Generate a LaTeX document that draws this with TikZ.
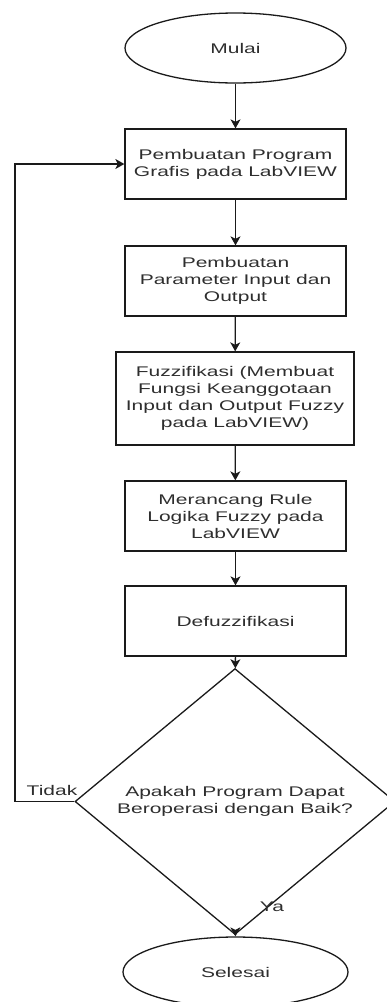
\documentclass[tikz,border=0pt]{standalone}
\usepackage{fontspec}
\setmainfont[FakeStretch=1.5]{Liberation Sans}
\usetikzlibrary{shapes.geometric,arrows.meta}
\definecolor{ink}{HTML}{1A1A1A}
\definecolor{txt}{HTML}{2E2E2E}
\begin{document}
\begin{tikzpicture}[x=1pt,y=-1pt,
  every node/.style={font=\fontsize{14}{17}\selectfont, text=txt, align=center, inner sep=0pt},
  terminal/.style={ellipse, draw=ink, line width=1.3pt, minimum width=221pt, minimum height=70pt},
  procbox/.style={rectangle, draw=ink, line width=1.3pt, minimum width=221pt, minimum height=70pt},
  decision/.style={diamond, draw=ink, line width=1.3pt, minimum width=320pt, minimum height=199pt},
  flow/.style={draw=ink, line width=1.3pt, -{Stealth[length=9pt,width=10pt,inset=2.5pt]}},
  lbl/.style={font=\fontsize{14}{17}\selectfont}
]
\useasboundingbox (0,0) rectangle (387,1002);
\node[terminal] (mulai) at (235.5,48) {Mulai};
\node[procbox] (b1) at (235.5,164) {Pembuatan Program\\Grafis pada LabVIEW};
\node[procbox] (b2) at (235.5,281) {Pembuatan\\Parameter Input dan\\Output};
\node[procbox, minimum width=238pt, minimum height=93pt] (b3) at (235,398.5) {Fuzzifikasi (Membuat\\Fungsi Keanggotaan\\Input dan Output Fuzzy\\pada LabVIEW)};
\node[procbox] (b4) at (235.5,516) {Merancang Rule\\Logika Fuzzy pada\\LabVIEW};
\node[procbox] (b5) at (235.5,621) {Defuzzifikasi};
\node[decision] (d) at (235,801.5) {Apakah Program Dapat\\Beroperasi dengan Baik?};
\node[terminal, minimum width=225pt] (sel) at (235.5,972) {Selesai};
\coordinate (corner) at (15,801.5);
\node[lbl] (tidak) at (52,790) {Tidak};
\node[lbl] (ya) at (272,907) {Ya};
\draw[flow] (mulai) -- (b1);
\draw[flow] (b1) -- (b2);
\draw[flow] (b2) -- (b3);
\draw[flow] (b3) -- (b4);
\draw[flow] (b4) -- (b5);
\draw[flow] (b5) -- (d);
\draw[flow] (d) -- (sel);
\draw[flow] (d.west) -- (corner) |- (b1.west);
\end{tikzpicture}
\end{document}
